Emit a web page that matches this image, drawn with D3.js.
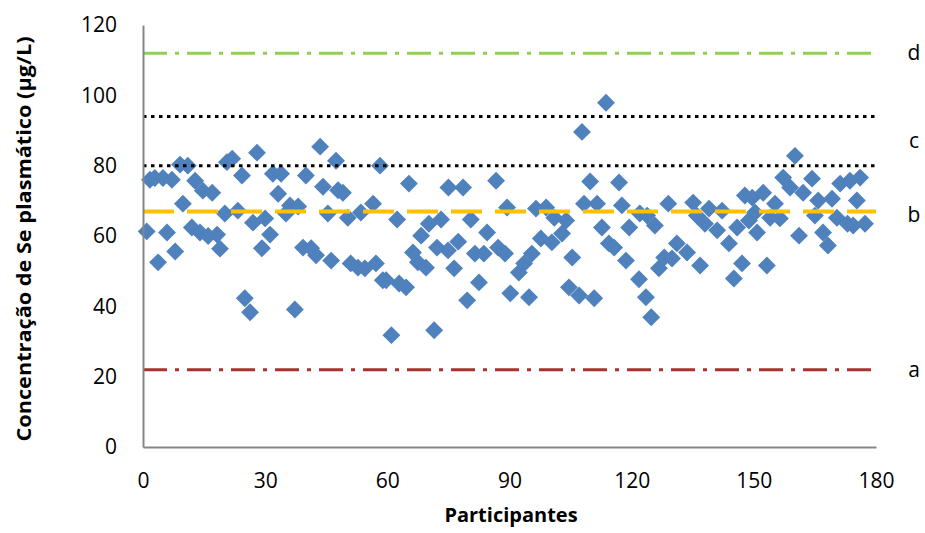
<!DOCTYPE html>
<html><head><meta charset="utf-8">
<script src="https://cdn.jsdelivr.net/npm/d3@7/dist/d3.min.js"></script>
<style>body{margin:0;background:#fff}</style></head>
<body>
<svg id="chart" width="925" height="533"></svg>
<script>
const participants = [0.9,1.7,2.9,3.7,4.9,5.9,7.1,7.9,9.1,9.8,11,12,12.8,14,14.7,16,17,18.2,18.9,20.1,20.6,21.9,23.3,24.3,25,26.3,27,28,29.2,
30,31.2,31.9,33.2,33.9,35.1,36.1,37.3,38.1,39.3,40,41.3,42.5,43.5,44.2,45.4,46.2,47.4,47.9,49.1,50.3,51,52.8,53.5,54.5,56.5,57.2,58.2,58.9,59.7,
61,62.4,62.9,64.6,65.3,66.3,67.5,68.3,69.5,70.2,71.5,72.2,73.2,74.9,75,76.4,77.4,78.6,79.6,80.5,81.5,82.5,83.7,84.5,86.7,87.2,88.9,89.4,
90.2,92.3,93.6,94.8,95.5,96.5,97.7,99,100.4,101,102.9,103.9,104.6,105.4,107.1,107.8,108.3,109.8,110.8,111.5,112.7,113.7,114.4,115.7,116.9,117.6,118.6,119.4,
121.8,122,123.5,123.8,124.8,125.7,126.7,128,129,129.9,131.1,133.6,135.1,136,136.8,138,139,141,142.2,143.9,145.1,145.9,147.1,147.8,148.8,
149.6,150.3,150.8,152.3,153.2,154,155.2,156.4,157.2,158.9,160.1,161.1,162.1,164.3,165,165.8,167,168.2,169.2,170.4,171.2,173,173.6,174.4,175.3,176.1,177.3];
const concentrations = [61.3,76,76.5,52.5,76.5,61,76,55.6,80.3,69.2,80,62.4,75.7,61,72.9,60,72.3,60.4,56.4,66.4,81,82,67.2,77.2,42.3,38.3,63.8,83.7,56.5,
65,60.4,77.7,72,77.7,66.4,68.7,39.1,68.4,56.7,77.2,56.5,54.5,85.4,74,66.4,53,81.4,73,72.3,65.2,52.2,51,66.7,50.8,69.2,52.2,80,47.4,47.4,
31.8,64.7,46.5,45.4,74.9,55.3,52.5,60.1,51,63.5,33.2,56.7,64.7,55.9,73.8,50.8,58.4,73.8,41.7,64.7,55,46.8,55,61,75.7,56.7,55,68.1,
43.7,49.6,52.2,42.6,55,67.8,59.3,68.1,58.2,65.2,60.7,64.4,45.4,53.9,43.1,89.6,69.2,75.5,42.3,69.2,62.4,97.9,57.9,56.7,75.2,68.7,53,62.4,
47.7,66.4,42.6,65.8,36.9,63,50.8,53.9,69.2,53.6,57.9,55.3,69.5,65.8,51.6,63.5,67.8,61.6,67.2,57.9,47.9,62.4,52.2,71.5,64.4,
70.9,66.7,61,72.3,51.6,65.2,69.2,65,76.6,73.8,82.8,60.1,72.3,76.3,65.8,70.1,61,57.3,70.6,65.2,74.9,63.5,75.7,63,70.1,76.6,63.5];

const xTicks = [0,30,60,90,120,150,180];
const yTicks = [0,20,40,60,80,100,120];
const refValues = [22, 67, 80, 94, 112];
const refLabels = ["a","b","c","d"];
const refLabelValues = [22, 66, 87, 112];

const svg = d3.select("#chart");
const x = d3.scaleLinear().domain([0,180]).range([143,876]);
const y = d3.scaleLinear().domain([0,120]).range([447,25]);
const font = "'Open Sans', 'Liberation Sans', sans-serif";

// points
const sym = d3.symbol().type(d3.symbolSquare).size(160);
svg.append("g").selectAll("path").data(participants.map((p,i)=>[p,concentrations[i]]))
  .join("path")
  .attr("d", sym)
  .attr("transform", d=>`translate(${x(d[0])},${y(d[1])}) rotate(45)`)
  .attr("fill", "#4F81BD");

// reference lines
const refStyle = [
  {stroke:"#A5332F", w:3, dash:"24,8,4,8"},
  {stroke:"#FFC000", w:4, dash:"31,13"},
  {stroke:"#000", w:3, dash:"3.5,4.5"},
  {stroke:"#000", w:3, dash:"3.5,4.5"},
  {stroke:"#92D050", w:3, dash:"24,8,4,8"}
];
svg.append("g").selectAll("line").data(refValues).join("line")
  .attr("x1", x(0)).attr("x2", x(180))
  .attr("y1", d=>y(d)).attr("y2", d=>y(d))
  .attr("stroke", (d,i)=>refStyle[i].stroke)
  .attr("stroke-width", (d,i)=>refStyle[i].w)
  .attr("stroke-dasharray", (d,i)=>refStyle[i].dash);

svg.append("g").selectAll("text").data(refLabels).join("text")
  .attr("x", 914).attr("y", (d,i)=>y(refLabelValues[i]))
  .attr("dy", "0.35em").attr("text-anchor","middle")
  .style("font-family", font).style("font-size","21px").attr("fill","#000")
  .text(d=>d);

// axes
const gx = svg.append("g").attr("transform", `translate(0,${y(0)})`)
  .call(d3.axisBottom(x).tickValues(xTicks).tickSize(0).tickPadding(26).tickSizeOuter(0));
const gy = svg.append("g").attr("transform", `translate(${x(0)},0)`)
  .call(d3.axisLeft(y).tickValues(yTicks).tickSize(0).tickPadding(26).tickSizeOuter(0));
[gx, gy].forEach(g=>{
  g.select(".domain").attr("stroke","#868686").attr("stroke-width",2);
  g.selectAll("text").style("font-family", font).style("font-size","21px").attr("fill","#000");
});

// titles
svg.append("text").attr("x", 511).attr("y", 515).attr("dy","0.35em")
  .attr("text-anchor","middle").style("font-family", font)
  .style("font-size","20px").style("font-weight","bold").text("Participantes");
svg.append("text").attr("transform","translate(24,239) rotate(-90)").attr("dy","0.35em")
  .attr("text-anchor","middle").style("font-family", font)
  .style("font-size","20px").style("font-weight","bold")
  .attr("textLength", 405).attr("lengthAdjust","spacingAndGlyphs")
  .text("Concentração de Se plasmático (µg/L)");
</script>
</body></html>
